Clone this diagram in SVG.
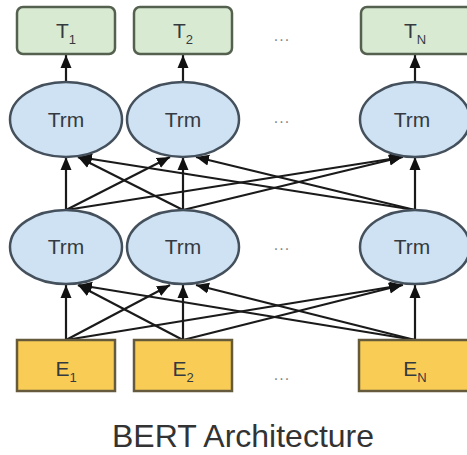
<svg xmlns="http://www.w3.org/2000/svg" width="467" height="455" viewBox="0 0 467 455">
<style>
.tbox{fill:#d9ead3;stroke:#55614f;stroke-width:2.5}
.ebox{fill:#f9cd55;stroke:#665a3c;stroke-width:2.5}
.trm{fill:#cfe2f3;stroke:#44505c;stroke-width:2.5}
.lbl{font-family:"Liberation Sans",Arial,sans-serif;fill:#343a40;text-anchor:middle}
.sub{font-size:13px}
.dots{font-family:"Liberation Sans",Arial,sans-serif;font-size:16px;fill:#888;text-anchor:middle;letter-spacing:1px}
.conn line{stroke:#1a1a1a;stroke-width:2.2;marker-end:url(#arr)}
</style>
<defs>
<marker id="arr" markerUnits="userSpaceOnUse" markerWidth="14" markerHeight="14" viewBox="0 0 14 14" refX="13" refY="7" orient="auto">
<path d="M0,1.5 L13,7 L0,12.5 Z" fill="#111"/>
</marker>
</defs>
<rect width="467" height="455" fill="#fff"/>
<g class="conn" id="connectors">
<line x1="66" y1="340" x2="66" y2="285"/>
<line x1="183" y1="340" x2="78" y2="285"/>
<line x1="415" y1="340" x2="79" y2="285"/>
<line x1="66" y1="340" x2="170" y2="285"/>
<line x1="183" y1="340" x2="183" y2="285"/>
<line x1="415" y1="340" x2="196" y2="285"/>
<line x1="66" y1="340" x2="403" y2="285"/>
<line x1="183" y1="340" x2="402" y2="285"/>
<line x1="415" y1="340" x2="415" y2="285"/>
<line x1="66" y1="210" x2="66" y2="157"/>
<line x1="183" y1="210" x2="78" y2="157"/>
<line x1="415" y1="210" x2="79" y2="157"/>
<line x1="66" y1="210" x2="170" y2="157"/>
<line x1="183" y1="210" x2="183" y2="157"/>
<line x1="415" y1="210" x2="196" y2="157"/>
<line x1="66" y1="210" x2="403" y2="157"/>
<line x1="183" y1="210" x2="402" y2="157"/>
<line x1="415" y1="210" x2="415" y2="157"/>
<line x1="66" y1="82" x2="66" y2="55"/>
<line x1="183" y1="82" x2="183" y2="55"/>
<line x1="415" y1="82" x2="415" y2="55"/>
</g>
<g id="T1"><rect class="tbox" x="17" y="7" width="98" height="47" rx="6"/><text class="lbl" x="66" y="38" font-size="21">T<tspan class="sub" dy="6">1</tspan></text></g>
<g id="T2"><rect class="tbox" x="134" y="7" width="98" height="47" rx="6"/><text class="lbl" x="183" y="38" font-size="21">T<tspan class="sub" dy="6">2</tspan></text></g>
<g id="TN"><rect class="tbox" x="361" y="7" width="112" height="47" rx="6"/><text class="lbl" x="415" y="38" font-size="21">T<tspan class="sub" dy="6">N</tspan></text></g>
<g id="TrmTop1"><ellipse class="trm" cx="66" cy="119.5" rx="56" ry="37.5"/><text class="lbl" x="66" y="127" font-size="21">Trm</text></g>
<g id="TrmTop2"><ellipse class="trm" cx="183" cy="119.5" rx="56" ry="37.5"/><text class="lbl" x="183" y="127" font-size="21">Trm</text></g>
<g id="TrmTopN"><ellipse class="trm" cx="415" cy="119.5" rx="55" ry="37.5"/><text class="lbl" x="412" y="127" font-size="21">Trm</text></g>
<g id="TrmMid1"><ellipse class="trm" cx="66" cy="247" rx="56" ry="37"/><text class="lbl" x="66" y="254" font-size="21">Trm</text></g>
<g id="TrmMid2"><ellipse class="trm" cx="183" cy="247" rx="56" ry="37"/><text class="lbl" x="183" y="254" font-size="21">Trm</text></g>
<g id="TrmMidN"><ellipse class="trm" cx="415" cy="247" rx="55" ry="37"/><text class="lbl" x="412" y="254" font-size="21">Trm</text></g>
<g id="E1"><rect class="ebox" x="17" y="340" width="98" height="51"/><text class="lbl" x="66" y="376" font-size="21">E<tspan class="sub" dy="6">1</tspan></text></g>
<g id="E2"><rect class="ebox" x="134" y="340" width="98" height="51"/><text class="lbl" x="183" y="376" font-size="21">E<tspan class="sub" dy="6">2</tspan></text></g>
<g id="EN"><rect class="ebox" x="359" y="340" width="114" height="51"/><text class="lbl" x="415" y="376" font-size="21">E<tspan class="sub" dy="6">N</tspan></text></g>
<g id="dots">
<text class="dots" x="282" y="41">...</text>
<text class="dots" x="282" y="123">...</text>
<text class="dots" x="282" y="250">...</text>
<text class="dots" x="282" y="380">...</text>
</g>
<text id="title" x="243" y="447" font-family="'Liberation Sans',Arial,sans-serif" font-size="32" fill="#333" text-anchor="middle">BERT Architecture</text>
</svg>
